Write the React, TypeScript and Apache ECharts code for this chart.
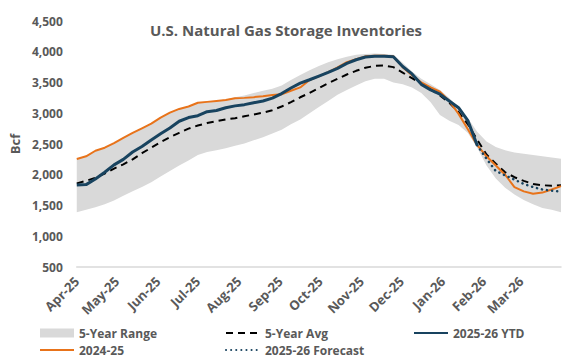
import React, { useEffect, useRef } from "react";
import * as echarts from "echarts";

const MONTHS = ["Jan", "Feb", "Mar", "Apr", "May", "Jun", "Jul", "Aug", "Sep", "Oct", "Nov", "Dec"];
const START = Date.UTC(2025, 3, 1);
const END = Date.UTC(2026, 2, 31);
const WEEK = 7 * 86400000;

const rangeLow = [1390, 1430, 1470, 1520, 1580, 1660, 1730, 1800, 1880, 1970, 2060, 2150, 2230, 2320, 2370, 2400, 2430, 2470, 2510, 2560, 2610, 2670, 2730, 2820, 2900, 3000, 3100, 3200, 3300, 3380, 3450, 3520, 3560, 3560, 3500, 3470, 3420, 3330, 3180, 2970, 2880, 2810, 2680, 2440, 2150, 1940, 1790, 1680, 1590, 1520, 1460, 1430, 1390];
const rangeHigh = [2256, 2305, 2395, 2445, 2520, 2605, 2685, 2760, 2835, 2935, 3015, 3075, 3115, 3175, 3190, 3205, 3225, 3260, 3290, 3330, 3365, 3400, 3450, 3540, 3620, 3700, 3770, 3830, 3880, 3920, 3950, 3965, 3970, 3965, 3950, 3820, 3680, 3560, 3470, 3380, 3250, 3090, 2920, 2700, 2540, 2450, 2400, 2360, 2340, 2320, 2300, 2280, 2260];
const avg5 = [1860, 1900, 1950, 2020, 2100, 2170, 2250, 2350, 2440, 2530, 2610, 2680, 2750, 2800, 2840, 2870, 2900, 2920, 2950, 2980, 3010, 3050, 3110, 3180, 3260, 3330, 3410, 3490, 3560, 3630, 3690, 3740, 3770, 3775, 3750, 3660, 3570, 3480, 3390, 3290, 3170, 3020, 2820, 2570, 2330, 2180, 2040, 1960, 1900, 1850, 1830, 1820, 1830];
const ytd2526 = [1833, 1840, 1930, 2040, 2160, 2250, 2370, 2460, 2565, 2665, 2760, 2870, 2930, 2960, 3025, 3045, 3090, 3120, 3140, 3170, 3200, 3245, 3320, 3410, 3490, 3545, 3605, 3665, 3730, 3810, 3870, 3915, 3925, 3925, 3920, 3760, 3640, 3470, 3380, 3310, 3200, 3090, 2880, 2480];
const prior2425 = [2256, 2300, 2390, 2440, 2515, 2600, 2680, 2755, 2830, 2930, 3010, 3070, 3110, 3170, 3185, 3200, 3215, 3245, 3250, 3262, 3275, 3295, 3308, 3365, 3420, 3540, 3600, 3670, 3745, 3830, 3880, 3925, 3935, 3935, 3925, 3750, 3620, 3500, 3420, 3350, 3200, 2990, 2740, 2480, 2300, 2150, 2000, 1800, 1730, 1690, 1710, 1760, 1815];
const forecastStart = 43;
const forecast2526 = [2480, 2260, 2060, 1990, 1920, 1850, 1800, 1760, 1740, 1725];
const yTicks = { min: 500, max: 4500, interval: 500 };

const TEXT = "#595959";
const FONT = "'Open Sans', 'DejaVu Sans', sans-serif";
const ORANGE = "#E8731A";
const NAVY = "#18435F";
const BAND = "#D9D9D9";
const CLEAR = "rgba(0,0,0,0)";

const dateOf = (i: number) => START + i * WEEK;
const pairs = (arr: number[], offset = 0) => arr.map((v, i) => [dateOf(i + offset), v]);

export default function App() {
  const ref = useRef<HTMLDivElement>(null);
  useEffect(() => {
    if (!ref.current) return;
    const chart = echarts.init(ref.current, null, { renderer: "svg" });
    const legendText = { color: TEXT, fontFamily: FONT, fontWeight: "bold" as const, fontSize: 12, lineHeight: 14 };
    const legendCommon = {
      orient: "vertical" as const,
      top: 326,
      itemWidth: 34,
      itemHeight: 9,
      itemGap: 3,
      textStyle: legendText,
      padding: 0,
      selectedMode: false,
    };
    const lineItem = (name: string) => ({ name, itemStyle: { color: CLEAR, borderColor: CLEAR, borderWidth: 0 } });
    chart.setOption({
      animation: false,
      useUTC: true,
      title: {
        text: "U.S. Natural Gas Storage Inventories",
        left: 281,
        top: 17,
        textAlign: "center",
        textStyle: { color: TEXT, fontFamily: FONT, fontWeight: "bold", fontSize: 15 },
      },
      grid: { left: 66, right: 26, top: 21, bottom: 96, containLabel: false },
      legend: [
        { ...legendCommon, left: 39, data: [{ name: "5-Year Range", icon: "rect" }, lineItem("2024-25")] },
        { ...legendCommon, left: 225, data: [lineItem("5-Year Avg"), lineItem("2025-26 Forecast")] },
        { ...legendCommon, left: 413, data: [lineItem("2025-26 YTD")] },
      ],
      xAxis: {
        type: "time",
        min: START,
        max: END,
        minInterval: 28 * 86400000,
        maxInterval: 31 * 86400000,
        axisLine: { show: true, lineStyle: { color: BAND, width: 1.5 } },
        axisTick: { show: false },
        splitLine: { show: false },
        axisLabel: {
          rotate: 45,
          margin: 12,
          color: TEXT,
          fontFamily: FONT,
          fontWeight: "bold",
          fontSize: 13,
          hideOverlap: false,
          formatter: (val: number) => {
            const d = new Date(val);
            return `${MONTHS[d.getUTCMonth()]}-${String(d.getUTCFullYear()).slice(2)}`;
          },
        },
      },
      yAxis: {
        type: "value",
        min: yTicks.min,
        max: yTicks.max,
        interval: yTicks.interval,
        name: "Bcf",
        nameLocation: "middle",
        nameRotate: 90,
        nameGap: 54,
        nameTextStyle: { color: TEXT, fontFamily: FONT, fontWeight: "bold", fontSize: 13 },
        axisLine: { show: false },
        axisTick: { show: false },
        splitLine: { show: false },
        axisLabel: {
          margin: 14,
          color: TEXT,
          fontFamily: FONT,
          fontWeight: "bold",
          fontSize: 12,
          formatter: (v: number) => v.toLocaleString("en-US"),
        },
      },
      series: [
        {
          name: "rangeBase",
          type: "line",
          stack: "band",
          symbol: "none",
          data: pairs(rangeLow),
          lineStyle: { opacity: 0 },
          silent: true,
          z: 1,
        },
        {
          name: "5-Year Range",
          type: "line",
          stack: "band",
          symbol: "none",
          data: rangeHigh.map((v, i) => [dateOf(i), v - rangeLow[i]]),
          lineStyle: { opacity: 0 },
          areaStyle: { color: BAND, opacity: 1 },
          itemStyle: { color: BAND },
          z: 1,
        },
        {
          name: "5-Year Avg",
          type: "line",
          symbol: "none",
          data: pairs(avg5),
          lineStyle: { color: "#000000", width: 2, type: [7, 5] },
          itemStyle: { color: "#000000" },
          z: 3,
        },
        {
          name: "2024-25",
          type: "line",
          symbol: "none",
          data: pairs(prior2425),
          lineStyle: { color: ORANGE, width: 2 },
          itemStyle: { color: ORANGE },
          z: 4,
        },
        {
          name: "2025-26 Forecast",
          type: "line",
          symbol: "none",
          data: pairs(forecast2526, forecastStart),
          lineStyle: { color: NAVY, width: 2.5, type: [0.1, 5], cap: "round" },
          itemStyle: { color: NAVY },
          z: 5,
        },
        {
          name: "2025-26 YTD",
          type: "line",
          symbol: "none",
          data: pairs(ytd2526),
          lineStyle: { color: NAVY, width: 3 },
          itemStyle: { color: NAVY },
          z: 6,
        },
      ],
    });
    return () => chart.dispose();
  }, []);
  return <div ref={ref} style={{ width: 587, height: 363, marginLeft: -8, marginTop: -8 }} />;
}
